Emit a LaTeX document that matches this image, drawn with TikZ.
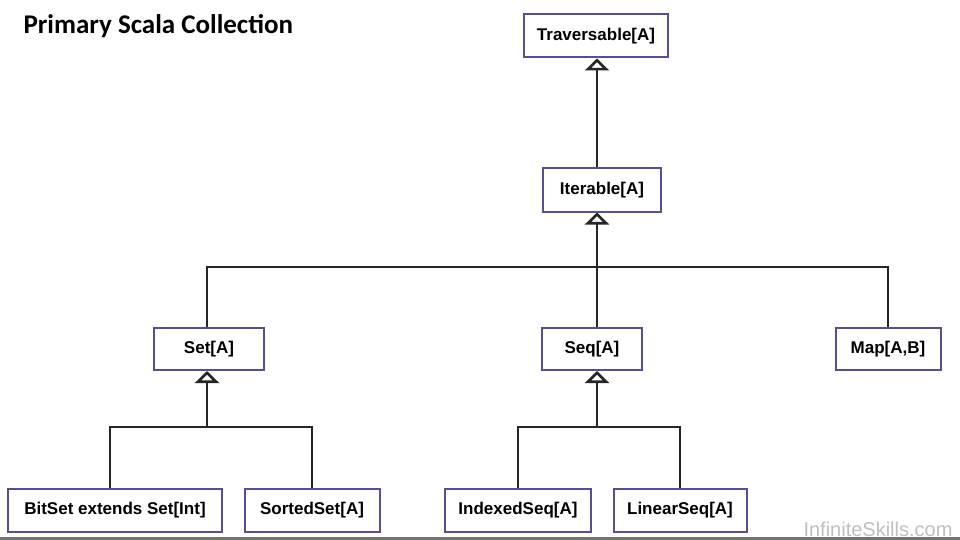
\documentclass[tikz,border=0pt]{standalone}
\usepackage{fontspec}
\setmainfont{Liberation Sans}
\newfontfamily\titlefont{Carlito}
\usetikzlibrary{arrows.meta}
\definecolor{boxline}{RGB}{88,78,150}
\tikzset{
  cls/.style={draw=boxline, line width=2pt, fill=white, minimum height=43pt,
    inner sep=0pt, font=\fontsize{17}{19}\selectfont\bfseries},
  link/.style={line width=2.8pt, black!85},
  inh/.style={link, -{Triangle[open, width=24pt, length=12pt, line width=2.6pt]}}
}
\begin{document}
\begin{tikzpicture}[x=1pt, y=-1pt]
    \useasboundingbox[fill=white] (0,0) rectangle (960,540);

    % Titel
    \node[font=\titlefont\fontsize{27}{30}\selectfont\bfseries, anchor=west] (title) at (20,26) {Primary Scala Collection};

    % Klassen
    \node[cls, minimum width=144pt] (trav) at (596,36) {Traversable[A]};
    \node[cls, minimum width=118pt] (iter) at (602,190) {Iterable[A]};
    \node[cls, minimum width=110pt, minimum height=42pt] (set) at (209,349) {Set[A]};
    \node[cls, minimum width=100pt, minimum height=42pt] (seq) at (592,349) {Seq[A]};
    \node[cls, minimum width=105pt, minimum height=42pt] (map) at (888,349) {Map[A,B]};
    \node[cls, minimum width=214pt] (bitset) at (115,510) {BitSet extends Set[Int]};
    \node[cls, minimum width=135pt] (sorted) at (312,510) {SortedSet[A]};
    \node[cls, minimum width=146pt] (indexed) at (518,510) {IndexedSeq[A]};
    \node[cls, minimum width=133pt] (linear) at (680,510) {LinearSeq[A]};

    % Verzweigungen
    \coordinate (hub) at (597,267);
    \coordinate (sethub) at (207,427);
    \coordinate (seqhub) at (597,427);

    % Vererbung
    \draw[inh] (hub |- iter.north) -- (hub |- trav.south);
    \draw[link] (set.north -| sethub) |- (hub) -| (map.north);
    \draw[link] (hub) -- (hub |- seq.north);
    \draw[inh] (hub) -- (hub |- iter.south);
    \draw[link] (bitset.north -| 110,0) |- (sethub) -| (sorted.north);
    \draw[inh] (sethub) -- (sethub |- set.south);
    \draw[link] (indexed.north) |- (seqhub) -| (linear.north);
    \draw[inh] (seqhub) -- (seqhub |- seq.south);

    % Wasserzeichen
    \node[font=\fontsize{20}{22}\selectfont, text=black!25, anchor=east] (mark) at (956,529) {InfiniteSkills.com};
    \fill[black!55] (0,537) rectangle (960,540);
\end{tikzpicture}
\end{document}
